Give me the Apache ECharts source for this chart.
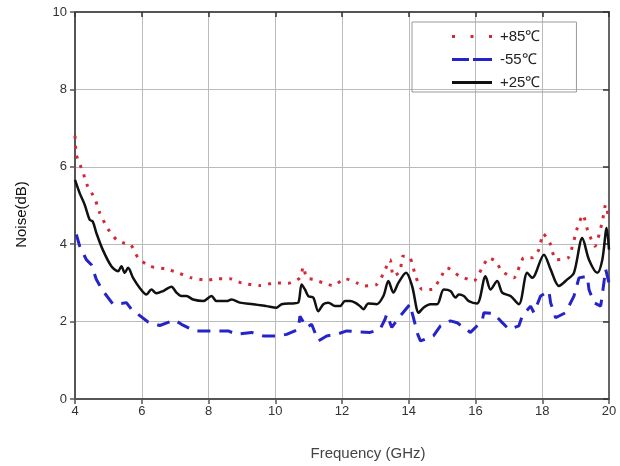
<!DOCTYPE html>
<html>
<head>
<meta charset="utf-8">
<script src="https://cdn.jsdelivr.net/npm/echarts@6/dist/echarts.min.js"></script>
<style>
  html, body { margin: 0; padding: 0; background: #fff; }
  #chart { width: 620px; height: 466px; }
</style>
</head>
<body>
<div id="chart"></div>
<script>
// +85 C (red dotted)
const freqHot = [4.0, 4.04, 4.23, 4.38, 4.59, 4.74, 4.99, 5.24, 5.49, 5.67, 5.89, 6.24, 6.74, 7.09, 7.49, 7.99, 8.29, 8.64, 8.99, 9.54, 9.99, 10.39, 10.74, 10.84, 10.94, 11.14, 11.44, 11.74, 12.09, 12.44, 12.64, 13.04, 13.24, 13.44, 13.54, 13.74, 13.82, 14.04, 14.2, 14.4, 14.7, 14.95, 15.15, 15.5, 15.95, 16.2, 16.4, 16.6, 16.8, 17.15, 17.45, 17.7, 17.9, 18.03, 18.25, 18.4, 18.78, 19.05, 19.22, 19.37, 19.58, 19.8, 19.9, 20.0];
const noiseHot = [6.8, 6.31, 5.88, 5.49, 5.19, 4.81, 4.39, 4.12, 4.02, 3.99, 3.65, 3.43, 3.36, 3.26, 3.13, 3.07, 3.11, 3.11, 3.0, 2.93, 3.0, 2.99, 3.13, 3.42, 3.13, 3.09, 3.0, 2.93, 3.11, 3.0, 2.92, 2.96, 3.24, 3.6, 3.17, 3.3, 3.69, 3.65, 3.19, 2.83, 2.83, 3.13, 3.39, 3.19, 3.05, 3.39, 3.65, 3.56, 3.3, 3.13, 3.65, 3.65, 3.86, 4.27, 3.99, 3.6, 3.65, 4.42, 4.76, 4.33, 3.95, 4.59, 5.02, 4.63];

// -55 C (blue dashed)
const freqCold = [4.04, 4.14, 4.34, 4.49, 4.64, 4.84, 5.14, 5.39, 5.54, 5.69, 6.19, 6.54, 6.99, 7.19, 7.59, 7.94, 8.59, 8.84, 9.29, 9.64, 10.04, 10.34, 10.69, 10.74, 10.94, 11.09, 11.29, 11.54, 11.84, 12.14, 12.54, 12.84, 13.14, 13.29, 13.34, 13.49, 13.74, 14.04, 14.1, 14.27, 14.35, 14.74, 14.95, 15.25, 15.45, 15.85, 16.2, 16.25, 16.55, 16.75, 17.0, 17.3, 17.4, 17.65, 17.75, 17.95, 18.2, 18.25, 18.4, 18.7, 18.95, 19.1, 19.35, 19.4, 19.55, 19.75, 19.8, 19.9, 20.0];
const noiseCold = [4.25, 3.95, 3.6, 3.47, 3.09, 2.79, 2.45, 2.47, 2.49, 2.32, 1.99, 1.9, 2.04, 1.93, 1.76, 1.76, 1.76, 1.67, 1.72, 1.63, 1.63, 1.67, 1.8, 2.14, 1.85, 1.93, 1.5, 1.63, 1.67, 1.76, 1.73, 1.72, 1.8, 2.06, 2.19, 1.85, 2.14, 2.45, 2.23, 1.67, 1.5, 1.63, 1.89, 2.02, 1.97, 1.72, 2.02, 2.23, 2.21, 2.02, 1.8, 1.89, 2.14, 2.4, 2.23, 2.66, 2.79, 2.49, 2.1, 2.23, 2.66, 3.13, 3.17, 2.83, 2.49, 2.4, 2.7, 3.35, 3.0];

// +25 C (black solid)
const freqRoom = [4.0, 4.14, 4.29, 4.44, 4.53, 4.64, 4.83, 5.09, 5.29, 5.39, 5.49, 5.59, 5.74, 5.94, 6.14, 6.29, 6.44, 6.64, 6.89, 7.04, 7.19, 7.34, 7.54, 7.84, 8.09, 8.24, 8.54, 8.69, 8.94, 9.34, 9.74, 10.04, 10.19, 10.54, 10.69, 10.79, 10.89, 10.99, 11.14, 11.29, 11.44, 11.59, 11.79, 11.94, 12.09, 12.24, 12.39, 12.54, 12.64, 12.79, 13.04, 13.24, 13.39, 13.54, 13.69, 13.92, 14.1, 14.3, 14.44, 14.65, 14.85, 15.05, 15.25, 15.4, 15.5, 15.65, 15.8, 16.05, 16.3, 16.45, 16.65, 16.8, 17.05, 17.3, 17.55, 17.7, 18.05, 18.25, 18.5, 18.75, 18.95, 19.2, 19.4, 19.65, 19.8, 19.93, 20.0];
const noiseRoom = [5.66, 5.32, 5.02, 4.63, 4.59, 4.29, 3.86, 3.43, 3.3, 3.43, 3.26, 3.39, 3.13, 2.87, 2.7, 2.83, 2.73, 2.79, 2.9, 2.75, 2.66, 2.66, 2.57, 2.53, 2.66, 2.53, 2.53, 2.57, 2.49, 2.45, 2.4, 2.36, 2.45, 2.47, 2.49, 2.96, 2.83, 2.66, 2.62, 2.27, 2.45, 2.49, 2.4, 2.4, 2.53, 2.53, 2.49, 2.4, 2.32, 2.47, 2.45, 2.66, 3.05, 2.75, 3.0, 3.26, 2.92, 2.23, 2.36, 2.45, 2.45, 2.83, 2.79, 2.62, 2.7, 2.66, 2.53, 2.47, 3.17, 2.83, 3.05, 2.75, 2.66, 2.45, 3.26, 3.13, 3.73, 3.35, 2.92, 3.09, 3.26, 4.16, 3.6, 3.26, 3.6, 4.42, 3.86];

const xTicks = [4, 6, 8, 10, 12, 14, 16, 18, 20];
const yTicks = [0, 2, 4, 6, 8, 10];

const pairs = (xs, ys) => xs.map((x, i) => [x, ys[i]]);

// legend swatches drawn as paths so they show dots / dashes / solid like the figure
const iconDots = "path://M0,0h3v3h-3z M18.5,0h3v3h-3z M37,0h3v3h-3z";
const iconDash = "path://M0,0h17v3h-17z M21,0h19v3h-19z";
const iconSolid = "path://M0,0h40v3h-40z";

const chart = echarts.init(document.getElementById("chart"));
const font = "Liberation Sans, Arial, sans-serif";

const option = {
  animation: false,
  backgroundColor: "#fff",
  textStyle: { fontFamily: font },
  grid: { left: 75, right: 11, top: 12, bottom: 66 },
  legend: {
    orient: "vertical",
    left: 412,
    top: 22,
    padding: [7, 36, 2, 40],
    itemGap: 8,
    itemWidth: 40,
    itemHeight: 15,
    borderColor: "#999",
    borderWidth: 1,
    textStyle: { fontSize: 15, color: "#222", fontFamily: font, padding: [0, 0, 0, 3] },
    data: [
      { name: "+85℃", icon: iconDots },
      { name: "-55℃", icon: iconDash },
      { name: "+25℃", icon: iconSolid },
    ],
  },
  xAxis: [
    {
      type: "value",
      min: 4,
      max: 20,
      interval: 2,
      name: "Frequency (GHz)",
      nameLocation: "middle",
      nameGap: 47,
      nameTextStyle: { fontSize: 15, color: "#444", padding: [0, 0, 0, 52] },
      axisLine: { lineStyle: { color: "#555", width: 2 } },
      axisTick: { show: true, length: 5, lineStyle: { color: "#555", width: 1.5 } },
      axisLabel: {
        fontSize: 13,
        color: "#333",
        margin: 6,
        formatter: (v) => (xTicks.includes(v) ? String(v) : ""),
      },
      splitLine: { show: true, lineStyle: { color: "#bbb", width: 1 } },
    },
    {
      type: "value",
      position: "top",
      min: 4,
      max: 20,
      interval: 2,
      axisLine: { show: true, onZero: false, lineStyle: { color: "#555", width: 2 } },
      axisTick: { show: true, inside: true, length: 5, lineStyle: { color: "#333", width: 1.5 } },
      axisLabel: { show: false },
      splitLine: { show: false },
    },
  ],
  yAxis: [
    {
      type: "value",
      min: 0,
      max: 10,
      interval: 2,
      name: "Noise(dB)",
      nameLocation: "middle",
      nameGap: 46,
      nameTextStyle: { fontSize: 15, color: "#111", padding: [0, 18, 0, 0] },
      axisLine: { show: true, lineStyle: { color: "#555", width: 2 } },
      axisTick: { show: true, length: 5, lineStyle: { color: "#555", width: 1.5 } },
      axisLabel: {
        fontSize: 13,
        color: "#333",
        margin: 8,
        formatter: (v) => (yTicks.includes(v) ? String(v) : ""),
      },
      splitLine: { show: true, lineStyle: { color: "#bbb", width: 1 } },
    },
    {
      type: "value",
      position: "right",
      min: 0,
      max: 10,
      interval: 2,
      axisLine: { show: true, onZero: false, lineStyle: { color: "#666", width: 2 } },
      axisTick: { show: true, inside: true, length: 6, lineStyle: { color: "#333", width: 1.5 } },
      axisLabel: { show: false },
      splitLine: { show: false },
    },
  ],
  series: [
    {
      name: "+85℃",
      type: "line",
      data: pairs(freqHot, noiseHot),
      symbol: "none",
      smooth: 0.2,
      lineStyle: { color: "#d42a35", width: 3, type: [3, 7] },
      itemStyle: { color: "#d42a35" },
      z: 3,
    },
    {
      name: "-55℃",
      type: "line",
      data: pairs(freqCold, noiseCold),
      symbol: "none",
      lineStyle: { color: "#2424c8", width: 3, type: [13, 9] },
      itemStyle: { color: "#2424c8" },
      z: 3,
    },
    {
      name: "+25℃",
      type: "line",
      data: pairs(freqRoom, noiseRoom),
      symbol: "none",
      smooth: 0.3,
      lineStyle: { color: "#111", width: 2.5 },
      itemStyle: { color: "#111" },
      z: 4,
    },
  ],
};

chart.setOption(option);
</script>
</body>
</html>
